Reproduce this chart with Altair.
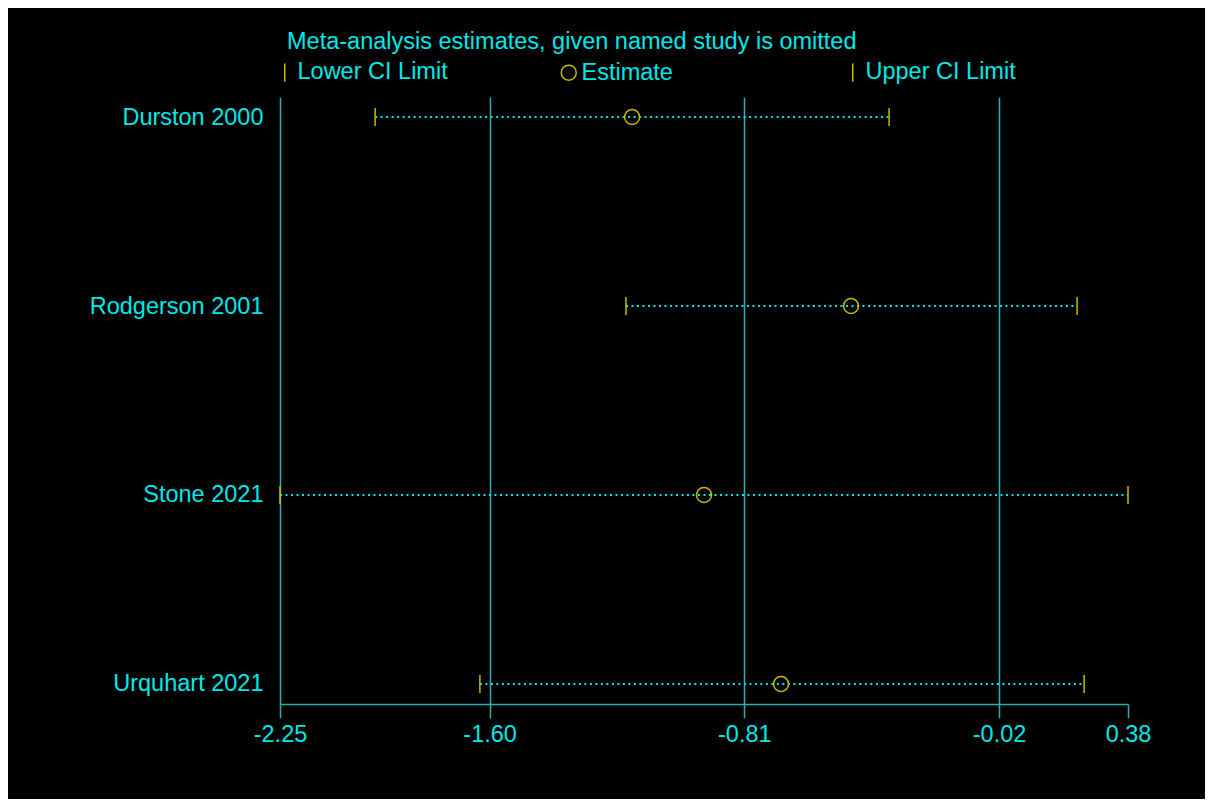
import altair as alt
import pandas as pd

studies = ["Durston 2000", "Rodgerson 2001", "Stone 2021", "Urquhart 2021"]
lower = [-1.955, -1.177, -2.25, -1.630]
estimate = [-1.158, -0.479, -0.935, -0.696]
upper = [-0.361, 0.222, 0.38, 0.244]

types = ["Lower CI Limit", "Estimate", "Upper CI Limit"]
tick_values = [-2.25, -1.60, -0.81, -0.02, 0.38]
title_text = "Meta-analysis estimates, given named study is omitted"

CYAN = "#00e8e8"
TEAL = "#22b4b4"
YELLOW = "#c8bc00"
FONT = "Liberation Sans"
FS = 23.5

wide = pd.DataFrame({"study": studies, "lower": lower, "estimate": estimate, "upper": upper})
long = pd.concat([
    pd.DataFrame({"study": studies, "type": types[0], "value": lower}),
    pd.DataFrame({"study": studies, "type": types[1], "value": estimate}),
    pd.DataFrame({"study": studies, "type": types[2], "value": upper}),
], ignore_index=True)

xscale = alt.Scale(domain=[-2.25, 0.38], nice=False, zero=False)
xaxis = alt.Axis(
    title=None, values=tick_values,
    labelExpr="replace(format(datum.value, '.2f'), '\u2212', '-')",
    grid=True,
    gridColor=alt.condition("datum.value > 0.3", alt.value("transparent"), alt.value(TEAL)),
    gridWidth=1.5,
    domainColor=TEAL, domainWidth=1.5,
    tickColor=TEAL, tickWidth=1.5, tickSize=14,
    labelColor=CYAN, labelFontSize=FS, labelFont=FONT, labelPadding=4,
    labelFlush=False,
)
yscale = alt.Scale(type="point", domain=studies, padding=0.106)
yaxis = alt.Axis(
    title=None, ticks=False, domain=False, grid=False,
    labelColor=CYAN, labelFontSize=FS, labelFont=FONT, labelPadding=17,
    labelAlign="right", labelLimit=400,
)

rules = alt.Chart(wide).mark_rule(
    color=CYAN, strokeWidth=2, strokeDash=[2, 3.5]
).encode(
    x=alt.X("lower:Q", scale=xscale, axis=xaxis),
    x2="upper:Q",
    y=alt.Y("study:N", scale=yscale, axis=yaxis),
)

TICK = "M0,-1.2L0,1.2"
points = alt.Chart(long).mark_point(
    filled=False, color=YELLOW, strokeWidth=1.5, opacity=1, size=225
).encode(
    x=alt.X("value:Q", scale=xscale, axis=xaxis),
    y=alt.Y("study:N", scale=yscale, axis=yaxis),
    shape=alt.Shape(
        "type:N",
        scale=alt.Scale(domain=types, range=[TICK, "circle", TICK]),
        legend=alt.Legend(
            title=None, orient="none", legendX=-7, legendY=-36.5,
            direction="horizontal", columns=3, gridAlign="all",
            columnPadding=109, padding=0,
            labelColor=CYAN, labelFontSize=FS, labelFont=FONT, labelOffset=1,
            labelLimit=400,
            symbolSize=225, symbolStrokeColor=YELLOW, symbolFillColor="transparent",
            symbolStrokeWidth=1.5,
        ),
    ),
)

chart = alt.layer(rules, points).properties(
    width=848, height=607,
    title=alt.TitleParams(
        text=title_text, anchor="start", frame="group", color=CYAN, fontSize=FS,
        fontWeight="normal", font=FONT, dx=7, offset=7,
    ),
    autosize=alt.AutoSizeParams(type="none"),
    padding={"left": 272, "top": 89, "right": 77, "bottom": 95},
).configure(
    background="black",
).configure_view(
    stroke=None,
)

chart.save("out.html", embed_options={"renderer": "svg", "actions": False})
